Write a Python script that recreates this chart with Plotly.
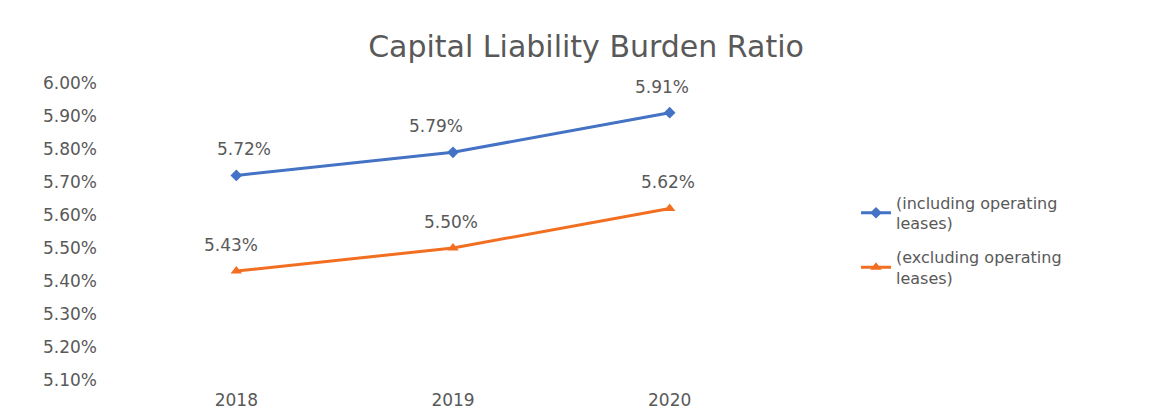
import plotly.graph_objects as go

years = ["2018", "2019", "2020"]
incl_values = [5.72, 5.79, 5.91]
excl_values = [5.43, 5.50, 5.62]
series_names = ["(including operating<br>leases)", "(excluding operating<br>leases)"]
y_ticks = [5.10, 5.20, 5.30, 5.40, 5.50, 5.60, 5.70, 5.80, 5.90, 6.00]

BLUE = "#4472C4"
ORANGE = "#F26F22"
GRAY = "#595959"
FONT = "DejaVu Sans"

# label horizontal nudges (style only)
incl_dx = [8, -17, -8]
excl_dx = [-5, -2, -2]

fig = go.Figure()
fig.add_trace(go.Scatter(
    x=years, y=incl_values, name=series_names[0], mode="lines+markers",
    legendgroup="a",
    line=dict(color=BLUE, width=3),
    marker=dict(symbol="diamond", size=9, color=BLUE),
))
fig.add_trace(go.Scatter(
    x=years, y=excl_values, name=series_names[1], mode="lines+markers",
    legendgroup="b",
    line=dict(color=ORANGE, width=3),
    marker=dict(symbol="triangle-up", size=10, color=ORANGE),
))

for vals, dxs in ((incl_values, incl_dx), (excl_values, excl_dx)):
    for i, (yv, dx) in enumerate(zip(vals, dxs)):
        fig.add_annotation(
            x=i, y=yv, xref="x", yref="y", text=f"{yv:.2f}%", showarrow=False,
            yshift=26, xshift=dx, font=dict(family=FONT, size=17, color=GRAY),
        )

fig.update_layout(
    width=1157, height=417,
    margin=dict(l=120, r=387, t=75, b=45, autoexpand=False),
    paper_bgcolor="white", plot_bgcolor="white",
    title=dict(
        text="Capital Liability Burden Ratio",
        font=dict(family=FONT, size=30, color=GRAY),
        xref="container", x=578 / 1157, xanchor="center",
        yref="container", y=1 - 38 / 417, yanchor="middle",
    ),
    showlegend=True,
    legend=dict(
        x=1.12, y=0.655, xanchor="left", yanchor="top",
        font=dict(family=FONT, size=16, color=GRAY),
        bgcolor="rgba(0,0,0,0)", tracegroupgap=10, traceorder="grouped",
    ),
    xaxis=dict(
        type="category", range=[-0.5, 2.5], automargin=False,
        showgrid=False, showline=False, zeroline=False, ticks="",
        tickfont=dict(family=FONT, size=17, color=GRAY),
        ticklabelstandoff=8,
    ),
    yaxis=dict(
        range=[5.10, 6.00], tickvals=y_ticks, automargin=False,
        ticktext=[f"{v:.2f}%" for v in y_ticks],
        showgrid=False, showline=False, zeroline=False, ticks="",
        tickfont=dict(family=FONT, size=17, color=GRAY),
        ticklabelstandoff=30,
    ),
)

fig.write_html("out.html")
